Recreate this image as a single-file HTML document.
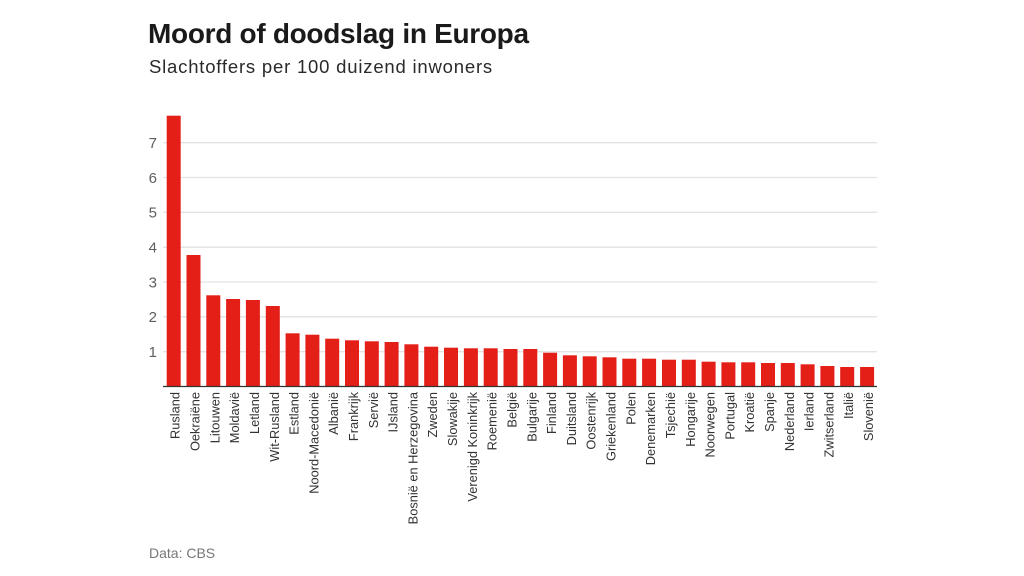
<!DOCTYPE html>
<html>
<head>
<meta charset="utf-8">
<style>
html,body{margin:0;padding:0;background:#fff;}
body{width:1024px;height:576px;overflow:hidden;position:relative;font-family:"Liberation Sans",sans-serif;}
svg{position:absolute;left:0;top:0;}
</style>
</head>
<body>
<svg width="1024" height="576" viewBox="0 0 1024 576" xmlns="http://www.w3.org/2000/svg" font-family="Liberation Sans, sans-serif">
<text x="148" y="43" font-size="28" font-weight="bold" fill="#1a1a1a" letter-spacing="-0.3">Moord of doodslag in Europa</text>
<text x="149" y="73" font-size="18.5" fill="#2a2a2a" letter-spacing="0.8">Slachtoffers per 100 duizend inwoners</text>

<g stroke="#e3e3e3" stroke-width="1.3">
<line x1="163" x2="877" y1="351.7" y2="351.7"/>
<line x1="163" x2="877" y1="316.8" y2="316.8"/>
<line x1="163" x2="877" y1="282" y2="282"/>
<line x1="163" x2="877" y1="247.2" y2="247.2"/>
<line x1="163" x2="877" y1="212.3" y2="212.3"/>
<line x1="163" x2="877" y1="177.5" y2="177.5"/>
<line x1="163" x2="877" y1="142.7" y2="142.7"/>
</g>
<g font-size="15" fill="#5e5e5e" text-anchor="end">
<text x="157" y="357">1</text>
<text x="157" y="322">2</text>
<text x="157" y="287.3">3</text>
<text x="157" y="252.5">4</text>
<text x="157" y="217.6">5</text>
<text x="157" y="182.8">6</text>
<text x="157" y="148">7</text>
</g>

<g fill="#e31f18">
<rect x="166.7" y="115.7" width="14" height="270.8"/>
<rect x="186.5" y="255" width="14" height="131.5"/>
<rect x="206.3" y="295.3" width="14" height="91.2"/>
<rect x="226.1" y="299" width="14" height="87.5"/>
<rect x="245.9" y="300" width="14" height="86.5"/>
<rect x="265.8" y="306" width="14" height="80.5"/>
<rect x="285.6" y="333.3" width="14" height="53.2"/>
<rect x="305.4" y="334.7" width="14" height="51.8"/>
<rect x="325.2" y="338.7" width="14" height="47.8"/>
<rect x="345.0" y="340.3" width="14" height="46.2"/>
<rect x="364.8" y="341.3" width="14" height="45.2"/>
<rect x="384.6" y="342" width="14" height="44.5"/>
<rect x="404.4" y="344.3" width="14" height="42.2"/>
<rect x="424.2" y="346.7" width="14" height="39.8"/>
<rect x="444.0" y="347.7" width="14" height="38.8"/>
<rect x="463.9" y="348.3" width="14" height="38.2"/>
<rect x="483.7" y="348.3" width="14" height="38.2"/>
<rect x="503.5" y="349" width="14" height="37.5"/>
<rect x="523.3" y="349" width="14" height="37.5"/>
<rect x="543.1" y="352.7" width="14" height="33.8"/>
<rect x="562.9" y="355.3" width="14" height="31.2"/>
<rect x="582.7" y="356.3" width="14" height="30.2"/>
<rect x="602.5" y="357.3" width="14" height="29.2"/>
<rect x="622.3" y="358.7" width="14" height="27.8"/>
<rect x="642.1" y="358.7" width="14" height="27.8"/>
<rect x="662.0" y="359.7" width="14" height="26.8"/>
<rect x="681.8" y="359.7" width="14" height="26.8"/>
<rect x="701.6" y="361.7" width="14" height="24.8"/>
<rect x="721.4" y="362.3" width="14" height="24.2"/>
<rect x="741.2" y="362.3" width="14" height="24.2"/>
<rect x="761.0" y="363" width="14" height="23.5"/>
<rect x="780.8" y="363" width="14" height="23.5"/>
<rect x="800.6" y="364.3" width="14" height="22.2"/>
<rect x="820.4" y="366" width="14" height="20.5"/>
<rect x="840.2" y="367" width="14" height="19.5"/>
<rect x="860.1" y="367" width="14" height="19.5"/>
</g>
<line x1="163" x2="877" y1="386.5" y2="386.5" stroke="#333" stroke-width="1.3"/>

<g font-size="12.8" fill="#333" text-anchor="end">
<text transform="translate(179.7,392) rotate(-90)">Rusland</text>
<text transform="translate(199.5,392) rotate(-90)">Oekraiëne</text>
<text transform="translate(219.3,392) rotate(-90)">Litouwen</text>
<text transform="translate(239.1,392) rotate(-90)">Moldavië</text>
<text transform="translate(258.9,392) rotate(-90)">Letland</text>
<text transform="translate(278.8,392) rotate(-90)">Wit-Rusland</text>
<text transform="translate(298.6,392) rotate(-90)">Estland</text>
<text transform="translate(318.4,392) rotate(-90)">Noord-Macedonië</text>
<text transform="translate(338.2,392) rotate(-90)">Albanië</text>
<text transform="translate(358.0,392) rotate(-90)">Frankrijk</text>
<text transform="translate(377.8,392) rotate(-90)">Servië</text>
<text transform="translate(397.6,392) rotate(-90)">IJsland</text>
<text transform="translate(417.4,392) rotate(-90)">Bosnië en Herzegovina</text>
<text transform="translate(437.2,392) rotate(-90)">Zweden</text>
<text transform="translate(457.0,392) rotate(-90)">Slowakije</text>
<text transform="translate(476.9,392) rotate(-90)">Verenigd Koninkrijk</text>
<text transform="translate(496.7,392) rotate(-90)">Roemenië</text>
<text transform="translate(516.5,392) rotate(-90)">België</text>
<text transform="translate(536.3,392) rotate(-90)">Bulgarije</text>
<text transform="translate(556.1,392) rotate(-90)">Finland</text>
<text transform="translate(575.9,392) rotate(-90)">Duitsland</text>
<text transform="translate(595.7,392) rotate(-90)">Oostenrijk</text>
<text transform="translate(615.5,392) rotate(-90)">Griekenland</text>
<text transform="translate(635.3,392) rotate(-90)">Polen</text>
<text transform="translate(655.1,392) rotate(-90)">Denemarken</text>
<text transform="translate(675.0,392) rotate(-90)">Tsjechië</text>
<text transform="translate(694.8,392) rotate(-90)">Hongarije</text>
<text transform="translate(714.6,392) rotate(-90)">Noorwegen</text>
<text transform="translate(734.4,392) rotate(-90)">Portugal</text>
<text transform="translate(754.2,392) rotate(-90)">Kroatië</text>
<text transform="translate(774.0,392) rotate(-90)">Spanje</text>
<text transform="translate(793.8,392) rotate(-90)">Nederland</text>
<text transform="translate(813.6,392) rotate(-90)">Ierland</text>
<text transform="translate(833.4,392) rotate(-90)">Zwitserland</text>
<text transform="translate(853.2,392) rotate(-90)">Italië</text>
<text transform="translate(873.1,392) rotate(-90)">Slovenië</text>
</g>

<text x="149" y="558" font-size="14" fill="#777">Data: CBS</text>
</svg>
</body>
</html>
